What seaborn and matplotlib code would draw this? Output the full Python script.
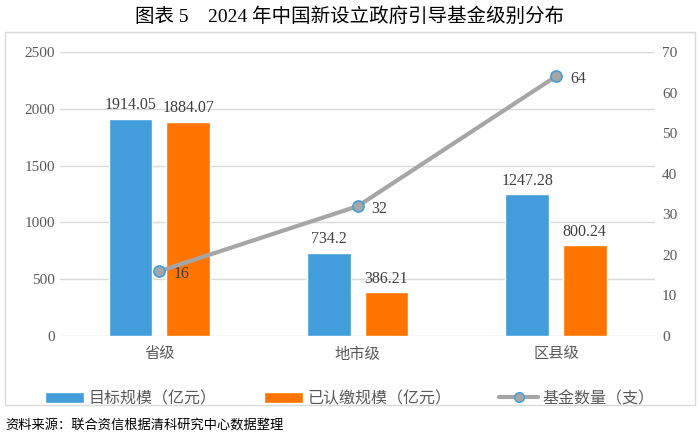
import seaborn as sns
import matplotlib.pyplot as plt
import pandas as pd
import numpy as np
from matplotlib.lines import Line2D
from matplotlib.patches import Patch, Rectangle

# data
levels = ["省级", "地市级", "区县级"]
target_scale = [1914.05, 734.2, 1247.28]
paid_scale = [1884.07, 386.21, 800.24]
fund_count = [16, 32, 64]
series_names = ["目标规模（亿元）", "已认缴规模（亿元）", "基金数量（支）"]

blue = "#439DDB"
orange = "#FF7500"
gray = "#A6A6A6"

sns.set_theme(style="white")
plt.rcParams['font.family'] = ['Liberation Serif', 'Noto Sans CJK SC', 'DejaVu Sans']

df = pd.DataFrame({
    "level": levels * 2,
    "value": target_scale + paid_scale,
    "series": [series_names[0]] * 3 + [series_names[1]] * 3,
})

fig = plt.figure(figsize=(7, 4.37), dpi=100)
ax = fig.add_axes([0.086, 0.231, 0.85, 0.65])

sns.barplot(data=df, x="level", y="value", hue="series", order=levels,
            palette=[blue, orange], saturation=1, width=0.58, gap=0.24,
            ax=ax, legend=False)
for cont in ax.containers:
    ax.bar_label(cont, labels=[f"{v:g}" for v in cont.datavalues], padding=4,
                 fontsize=11.5, color="#404040")

ax.set_ylim(0, 2500)
ax.set_yticks(np.arange(0, 2501, 500))
ax.set_xlim(-0.5, 2.5)
ax.set_xlabel("")
ax.set_ylabel("")
ax.grid(axis="y", color="#D9D9D9", linewidth=1)
ax.set_axisbelow(True)
for s in ax.spines.values():
    s.set_visible(False)
ax.tick_params(axis="both", length=0, labelsize=11, colors="#595959")
ax.tick_params(axis="x", pad=8)

ax2 = ax.twinx()
xs = np.arange(len(levels))
sns.lineplot(x=xs, y=fund_count, ax=ax2, color=gray, linewidth=3,
             marker="o", markersize=8, markerfacecolor=gray,
             markeredgecolor=blue, markeredgewidth=1.2)
for x, v in zip(xs, fund_count):
    ax2.annotate(f"{v}", (x, v), xytext=(10, -2), textcoords="offset points",
                 ha="left", va="center", fontsize=11.5, color="#404040")
ax2.set_ylim(0, 70)
ax2.set_yticks(np.arange(0, 71, 10))
ax2.set_xlim(-0.5, 2.5)
for s in ax2.spines.values():
    s.set_visible(False)
ax2.tick_params(axis="y", length=0, labelsize=11, colors="#595959", pad=5)
ax2.grid(False)

# outer frame
fig.patches.append(Rectangle((5 / 700, 1 - 405 / 437), 690 / 700, 373 / 437,
                             transform=fig.transFigure, fill=False,
                             edgecolor="#D9D9D9", linewidth=1))

handles = [
    Patch(facecolor=blue, label=series_names[0]),
    Patch(facecolor=orange, label=series_names[1]),
    Line2D([0], [0], color=gray, linewidth=3, marker="o", markersize=7,
           markerfacecolor=gray, markeredgecolor=blue, label=series_names[2]),
]
fig.legend(handles=handles, loc="center", bbox_to_anchor=(0.5, 0.087), ncol=3,
           frameon=False, fontsize=11.5, handlelength=2.4, handleheight=0.7,
           columnspacing=3, handletextpad=0.3, labelcolor="#595959")

fig.text(0.5, 0.963, "图表 5　2024 年中国新设立政府引导基金级别分布", ha="center",
         va="center", fontsize=14, color="#000000", fontweight="medium")
fig.text(0.008, 0.027, "资料来源：联合资信根据清科研究中心数据整理", ha="left",
         va="center", fontsize=9.5, color="#000000")

fig.savefig("out.png", dpi=100)
